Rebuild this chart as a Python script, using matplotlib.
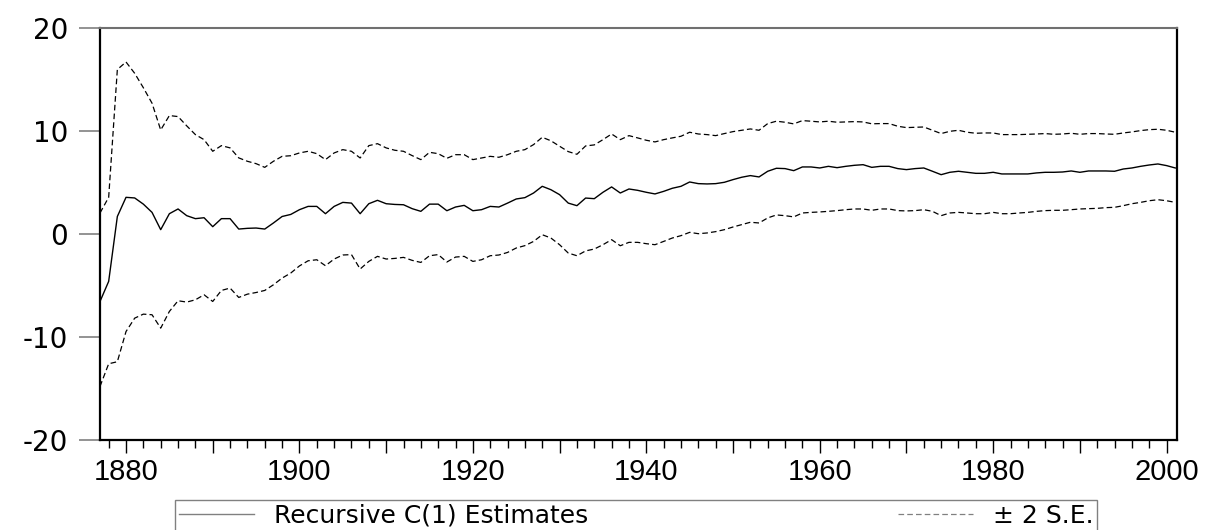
import numpy as np
import matplotlib.pyplot as plt
from matplotlib.ticker import MultipleLocator, FuncFormatter

years = np.arange(1877, 2002)

# recursive C(1) estimate, one value per year 1877-2001
estimate = [
    -6.55, -4.6, 1.7,
    3.56, 3.5, 2.9, 2.1, 0.42, 1.97, 2.43, 1.78, 1.49, 1.58,
    0.71, 1.49, 1.49, 0.48, 0.55, 0.58, 0.48, 1.07, 1.7, 1.9,
    2.36, 2.68, 2.68, 1.97, 2.68, 3.07, 3.0, 1.97, 2.94, 3.27,
    2.94, 2.87, 2.84, 2.46, 2.2, 2.9, 2.9, 2.26, 2.62, 2.78,
    2.26, 2.36, 2.68, 2.62, 3.0, 3.4, 3.53, 3.98, 4.63, 4.3,
    3.82, 3.0, 2.75, 3.49, 3.43, 4.05, 4.57, 3.98, 4.37, 4.24,
    4.05, 3.89, 4.14, 4.44, 4.63, 5.05, 4.89, 4.86, 4.89, 5.02,
    5.28, 5.51, 5.67, 5.54, 6.09, 6.38, 6.35, 6.15, 6.51, 6.51,
    6.41, 6.57, 6.44, 6.57, 6.67, 6.73, 6.47, 6.57, 6.57, 6.35,
    6.25, 6.35, 6.41, 6.09, 5.76, 5.99, 6.09, 5.99, 5.89, 5.89,
    5.99, 5.83, 5.83, 5.83, 5.83, 5.93, 5.99, 5.99, 6.02, 6.12,
    5.99, 6.12, 6.12, 6.12, 6.09, 6.31, 6.41, 6.57, 6.7, 6.8,
    6.64, 6.41,
]

# upper band (+2 S.E.)
upper = [
    2.04, 3.56, 15.97,
    16.7, 15.6, 14.2, 12.7, 10.1, 11.5, 11.4, 10.5, 9.65, 9.16,
    8.03, 8.58, 8.36, 7.39, 7.06, 6.83, 6.47, 7.06, 7.54, 7.6,
    7.87, 8.03, 7.8, 7.22, 7.87, 8.19, 8.03, 7.38, 8.58, 8.77,
    8.36, 8.13, 8.03, 7.61, 7.22, 7.93, 7.8, 7.35, 7.7, 7.7,
    7.22, 7.38, 7.54, 7.45, 7.7, 8.03, 8.19, 8.68, 9.39, 9.05,
    8.52, 8.0, 7.74, 8.55, 8.65, 9.16, 9.71, 9.16, 9.55, 9.33,
    9.1, 8.94, 9.16, 9.33, 9.49, 9.88, 9.71, 9.65, 9.55, 9.75,
    9.94, 10.07, 10.2, 10.07, 10.72, 10.95, 10.85, 10.69, 11.01, 10.95,
    10.88, 10.95, 10.85, 10.88, 10.91, 10.88, 10.7, 10.72, 10.72, 10.46,
    10.33, 10.36, 10.39, 10.07, 9.75, 9.97, 10.07, 9.88, 9.78, 9.81,
    9.81, 9.65, 9.65, 9.65, 9.68, 9.71, 9.75, 9.68, 9.71, 9.78,
    9.68, 9.75, 9.75, 9.71, 9.68, 9.81, 9.91, 10.04, 10.13, 10.17,
    10.07, 9.88,
]

# lower band (-2 S.E.)
lower = [
    -14.8, -12.6, -12.4,
    -9.47, -8.17, -7.78, -7.84, -9.14, -7.52, -6.48, -6.61, -6.39, -5.9,
    -6.55, -5.48, -5.25, -6.16, -5.84, -5.68, -5.48, -4.93, -4.28, -3.79,
    -3.1, -2.6, -2.5, -3.08, -2.43, -2.04, -2.0, -3.4, -2.66, -2.17,
    -2.43, -2.37, -2.27, -2.56, -2.76, -2.11, -2.0, -2.72, -2.24, -2.17,
    -2.66, -2.5, -2.11, -2.04, -1.79, -1.36, -1.13, -0.72, -0.07, -0.39,
    -1.04, -1.85, -2.11, -1.64, -1.46, -1.04, -0.55, -1.14, -0.81, -0.81,
    -0.94, -1.04, -0.72, -0.39, -0.16, 0.16, 0.03, 0.1, 0.23, 0.42,
    0.68, 0.91, 1.14, 1.07, 1.56, 1.85, 1.78, 1.66, 2.04, 2.1,
    2.14, 2.2, 2.27, 2.36, 2.43, 2.43, 2.3, 2.43, 2.43, 2.27,
    2.24, 2.27, 2.36, 2.2, 1.78, 2.04, 2.1, 2.04, 1.97, 1.97,
    2.1, 1.97, 1.97, 2.04, 2.1, 2.2, 2.27, 2.3, 2.3, 2.36,
    2.43, 2.46, 2.49, 2.56, 2.59, 2.75, 2.94, 3.07, 3.23, 3.33,
    3.23, 3.07,
]

labels = ['Recursive C(1) Estimates', '\u00b1 2 S.E.']

fig = plt.figure(figsize=(12.16, 5.30), dpi=100)
ax = fig.add_axes([100 / 1216, 1 - 440 / 530, 1077 / 1216, 412 / 530])

dash = (0, (4.5, 2.5))
h1, = ax.plot(years, estimate, color='black', lw=1.0, label=labels[0])
h2, = ax.plot(years, upper, color='black', lw=0.9, ls=dash, label=labels[1])
ax.plot(years, lower, color='black', lw=0.9, ls=dash)

ax.set_xlim(1877, 2001.2)
ax.set_ylim(-20, 20)

# frame: grey top, black elsewhere
ax.spines['top'].set_color('#707070')
ax.spines['top'].set_linewidth(1.5)
for side in ['left', 'right', 'bottom']:
    ax.spines[side].set_color('black')
    ax.spines[side].set_linewidth(1.6)

# y axis
ax.yaxis.set_major_locator(MultipleLocator(10))
ax.yaxis.set_major_formatter(FuncFormatter(lambda v, p: '%d' % v))
ax.tick_params(axis='y', direction='out', length=15, width=1.2,
               color='#808080', pad=8, labelsize=20,
               labelfontfamily='DejaVu Sans')

# x axis: ticks every 2 years, longer every 10, labels every 20
ax.xaxis.set_major_locator(MultipleLocator(10))
ax.xaxis.set_minor_locator(MultipleLocator(2))
ax.xaxis.set_major_formatter(
    FuncFormatter(lambda v, p: '%d' % v if int(round(v)) % 20 == 0 else ''))
ax.tick_params(axis='x', which='major', direction='out', length=9,
               width=1.0, pad=4, labelsize=21,
               labelfontfamily='Liberation Sans')
ax.tick_params(axis='x', which='minor', direction='out', length=6,
               width=1.0)

# legend box spans x 175..1097 px, top at y 500 px (bottom cut by figure)
leg = fig.legend([h1, h2], labels, loc='upper left',
                 bbox_to_anchor=(175 / 1216, 0.0, 922 / 1216, 30 / 530),
                 mode='expand', ncol=2, borderaxespad=0.0,
                 frameon=True, fancybox=False,
                 handlelength=3.0, handletextpad=0.8, columnspacing=3.0,
                 borderpad=0.15, prop={'family': 'DejaVu Sans', 'size': 18})
leg.get_frame().set_edgecolor('#606060')
leg.get_frame().set_linewidth(1.0)
for line in leg.get_lines():
    line.set_color('#808080')

fig.savefig('out.png', dpi=100)
